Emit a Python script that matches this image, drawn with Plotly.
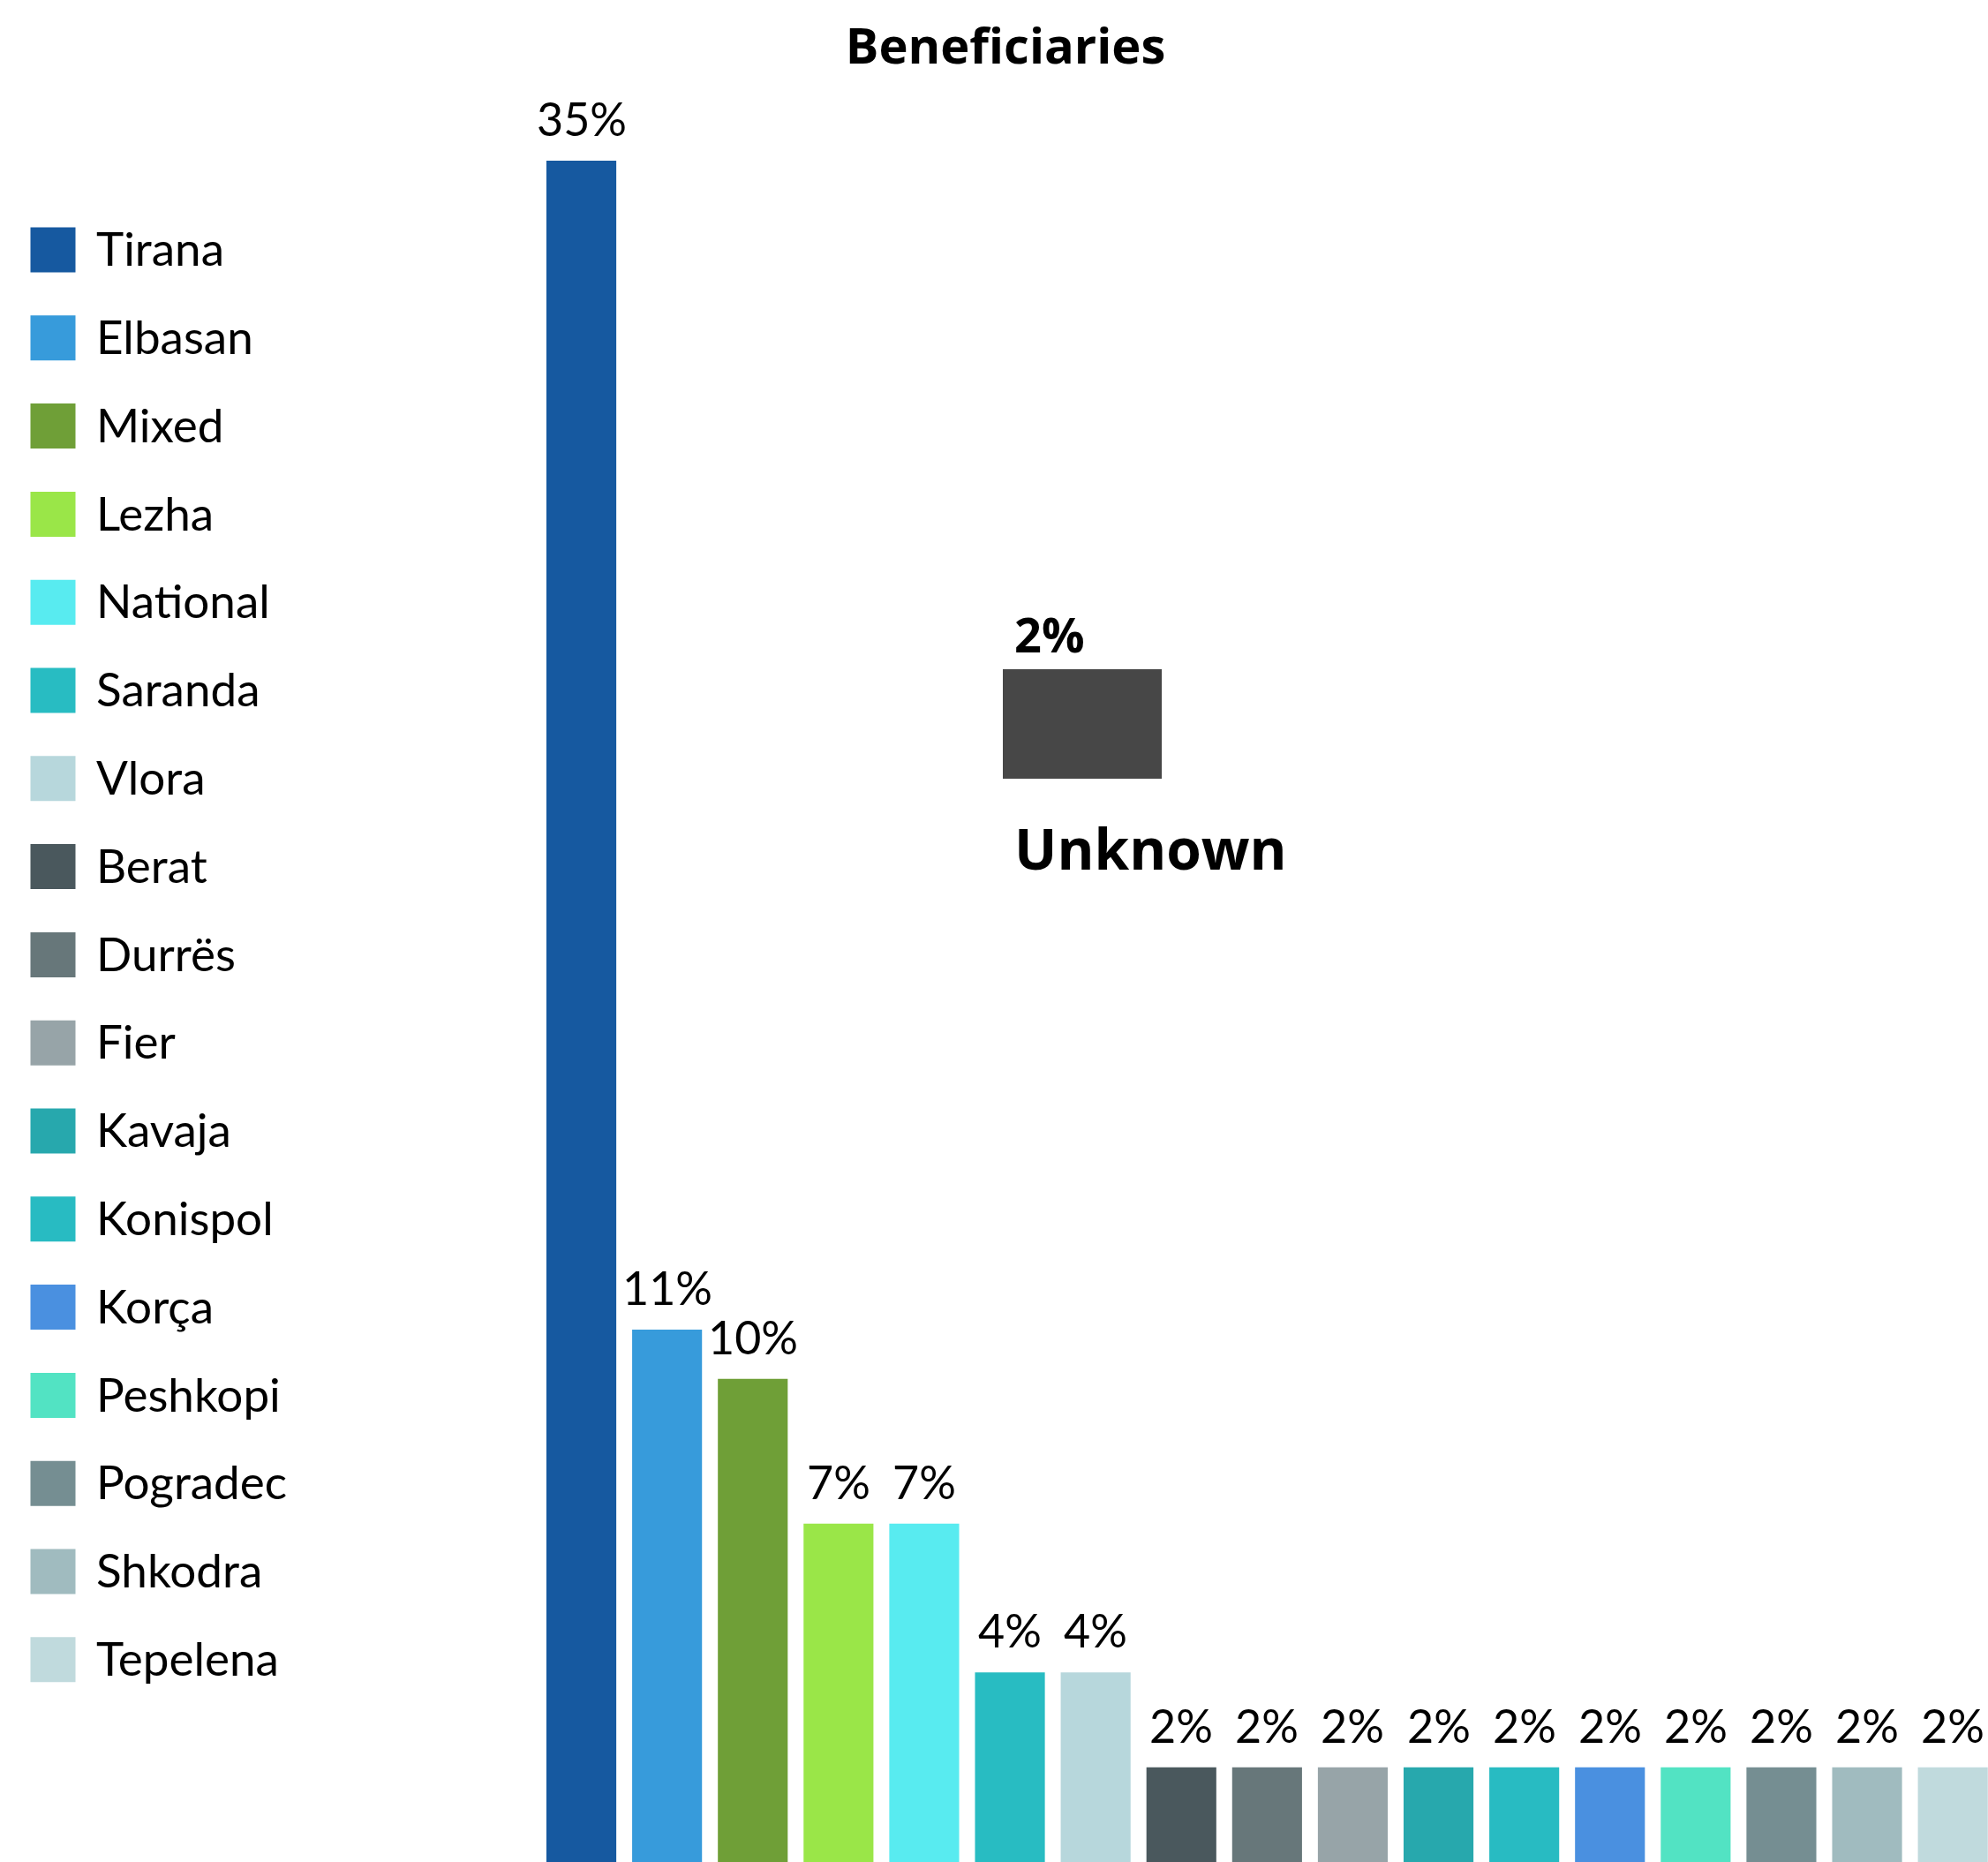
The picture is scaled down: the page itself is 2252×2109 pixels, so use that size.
import plotly.graph_objects as go

W, H = 2252, 2109

regions = ["Tirana", "Elbasan", "Mixed", "Lezha", "National", "Saranda", "Vlora",
           "Berat", "Durrës", "Fier", "Kavaja", "Konispol", "Korça", "Peshkopi",
           "Pogradec", "Shkodra", "Tepelena"]
shares = [35.0, 10.95, 9.94, 6.96, 6.96, 3.9, 3.9, 1.95, 1.95, 1.95, 1.95, 1.95,
          1.95, 1.95, 1.95, 1.95, 1.95]
colors = ["#1659A0", "#379BDB", "#6F9F37", "#9AE648", "#58EBF0", "#28BCC2", "#B7D7DC",
          "#4A585D", "#67777A", "#97A4A8", "#27A8AD", "#28BBC2", "#4A90E0", "#52E3C3",
          "#758E92", "#A0BBBF", "#C0DADD"]
unknown_label = "Unknown"
unknown_share = [1.95]
unknown_color = "#474747"
title_text = "Beneficiaries"

LABEL_FONT = "Lato"
BOLD_FONT = "Open Sans"

fig = go.Figure()

# main bars
fig.add_trace(go.Bar(
    x=regions, y=shares, marker=dict(color=colors, line=dict(width=0)),
    width=0.815, xaxis="x", yaxis="y", showlegend=False, hoverinfo="x+y"))

# unknown box (separate small axis)
fig.add_trace(go.Bar(
    x=[unknown_label], y=unknown_share, marker=dict(color=unknown_color, line=dict(width=0)),
    width=1.0, xaxis="x2", yaxis="y2", showlegend=False))

# custom legend (pixel axis covering the full page)
LEG_X, LEG_TOP, LEG_STEP, LEG_TEXT_X, LEG_TEXT_DY = 60, 283, 99.8, 109, 5
leg_y = [LEG_TOP + i * LEG_STEP for i in range(len(regions))]
fig.add_trace(go.Scatter(
    x=[LEG_X] * len(regions), y=leg_y, mode="markers",
    marker=dict(symbol="square", size=51, color=colors, line=dict(width=0)),
    xaxis="x3", yaxis="y3", showlegend=False, hoverinfo="skip"))
fig.add_trace(go.Scatter(
    x=[LEG_TEXT_X] * len(regions), y=[y + LEG_TEXT_DY for y in leg_y], mode="text",
    text=regions, textposition="middle right",
    textfont=dict(family=LABEL_FONT, size=53, color="#000000"),
    xaxis="x3", yaxis="y3", showlegend=False, hoverinfo="skip"))

annotations = []
for r, v in zip(regions, shares):
    annotations.append(dict(
        x=r, y=v, xref="x", yref="y", text=f"{round(v)}%", showarrow=False,
        xanchor="center", yanchor="bottom", yshift=15,
        font=dict(family=LABEL_FONT, size=52, color="#000000")))

annotations.append(dict(
    x=1147 / W, y=1 - 718 / H, xref="paper", yref="paper",
    text=f"<b>{round(unknown_share[0])}%</b>", showarrow=False, xanchor="left",
    yanchor="middle", font=dict(family=BOLD_FONT, size=54, color="#000000")))
annotations.append(dict(
    x=1147 / W, y=1 - 960 / H, xref="paper", yref="paper",
    text=f"<b>{unknown_label}</b>", showarrow=False, xanchor="left", yanchor="middle",
    font=dict(family=BOLD_FONT, size=64, color="#000000")))

step_px = 97.1
left_px = 610
x_max = -0.5 + (W - left_px) / step_px

fig.update_layout(
    width=W, height=H,
    margin=dict(l=0, r=0, t=0, b=0, pad=0),
    paper_bgcolor="white", plot_bgcolor="rgba(0,0,0,0)",
    title=dict(text=f"<b>{title_text}</b>", x=1139 / W, xanchor="center",
               y=1 - 52 / H, yanchor="middle", xref="paper", yref="paper",
               font=dict(family=BOLD_FONT, size=56, color="#000000")),
    xaxis=dict(domain=[left_px / W, 1], range=[-0.5, x_max], visible=False, fixedrange=True),
    yaxis=dict(domain=[0, (H - 182) / H], range=[0, 35], visible=False, fixedrange=True),
    xaxis2=dict(domain=[1136 / W, 1316 / W], range=[-0.5, 0.5], visible=False, anchor="y2"),
    yaxis2=dict(domain=[(H - 882) / H, (H - 758) / H], range=[0, unknown_share[0]],
                visible=False, anchor="x2"),
    xaxis3=dict(domain=[0, 1], range=[0, W], visible=False, anchor="y3"),
    yaxis3=dict(domain=[0, 1], range=[H, 0], visible=False, anchor="x3"),
    annotations=annotations,
    showlegend=False,
)

fig.write_html("out.html", config={"displayModeBar": False},
               post_script="document.body.style.margin='0';document.body.style.overflow='hidden';")
